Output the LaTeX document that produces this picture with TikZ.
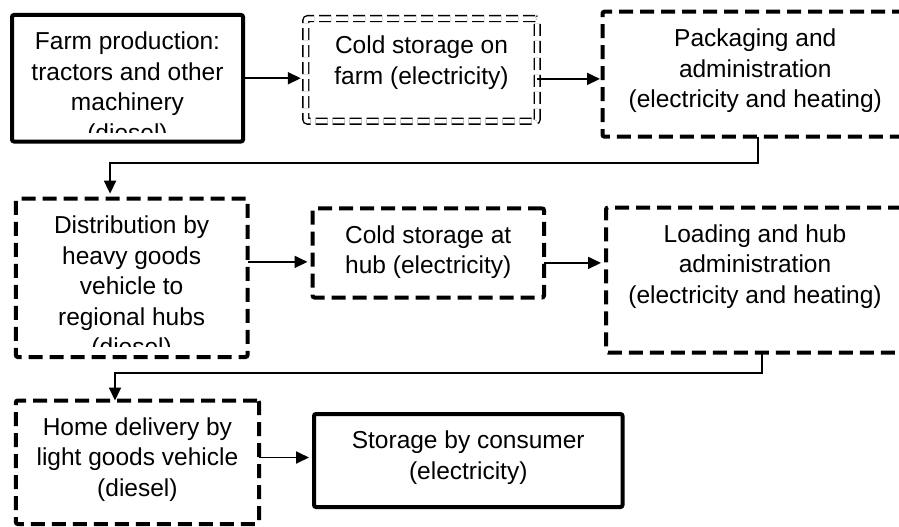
\documentclass[tikz,border=0pt]{standalone}
\usepackage{fontspec}
\setmainfont{Liberation Sans}
\usetikzlibrary{arrows.meta,positioning}

\begin{document}
\begin{tikzpicture}[
  x=1pt,y=-1pt,
  font=\fontsize{24.5}{30.5}\selectfont,
  solidbox/.style={draw,line width=4pt,rounded corners=2pt,outer sep=0pt,inner sep=0pt,anchor=north west},
  dashbox/.style={solidbox,dash pattern=on 14pt off 7pt},
  dblbox/.style={draw,double,double distance=4.4pt,line width=1.4pt,dash pattern=on 12pt off 5pt,rounded corners=2pt,outer sep=0pt,inner sep=0pt,anchor=north west},
  txt/.style={align=center,inner sep=0pt},
  arr/.style={-{Triangle[length=13pt,width=12pt]},line width=1.8pt,shorten >=5pt}
]
\useasboundingbox (0,0) rectangle (899,527);
\clip (0,0) rectangle (899,527);

\node[solidbox,minimum width=231pt,minimum height=126.5pt] (farm) at (12,15) {};
\node[dblbox,minimum width=231.4pt,minimum height=102.6pt] (cold) at (305.8,18.6) {};
\node[dashbox,minimum width=305.5pt,minimum height=125pt] (pack) at (602.5,11.7) {};

\node[dashbox,minimum width=231.7pt,minimum height=158.3pt] (dist) at (15.8,198.7) {};
\node[dashbox,minimum width=231.5pt,minimum height=89.2pt] (hub) at (312.5,208.3) {};
\node[dashbox,minimum width=298pt,minimum height=145pt] (load) at (606,207.5) {};

\node[dashbox,minimum width=243.2pt,minimum height=123.5pt] (home) at (15.8,400.5) {};
\node[solidbox,minimum width=308.5pt,minimum height=93pt] (store) at (314,414) {};

\begin{scope}
\clip (farm.north west) rectangle ([yshift=9.5pt]farm.south east);
\node[txt,below=17pt of farm.north] (farmtxt) {Farm production:\\tractors and other\\machinery\\(diesel)};
\end{scope}
\node[txt,below=17pt of cold.north] (coldtxt) {Cold storage on\\farm (electricity)};
\node[txt,below=17pt of pack.north] (packtxt) {Packaging and\\administration\\(electricity and heating)};

\begin{scope}
\clip (dist.north west) rectangle ([yshift=11pt]dist.south east);
\node[txt,below=17pt of dist.north] (disttxt) {Distribution by\\heavy goods\\vehicle to\\regional hubs\\(diesel)};
\end{scope}
\node[txt,below=17pt of hub.north] (hubtxt) {Cold storage at\\hub (electricity)};
\node[txt,below=17pt of load.north] (loadtxt) {Loading and hub\\administration\\(electricity and heating)};

\node[txt,below=17pt of home.north] (hometxt) {Home delivery by\\light goods vehicle\\(diesel)};
\node[txt,below=17pt of store.north] (storetxt) {Storage by consumer\\(electricity)};

\coordinate (coldout) at ([yshift=-9pt]cold.east);
\coordinate (hubin) at ([yshift=-9pt]hub.west);
\coordinate (hubout) at ([yshift=-10pt]hub.east);
\coordinate (storein) at ([yshift=3pt]store.west);

\draw[arr] (farm.east) -- (farm.east -| cold.west);
\draw[arr,shorten >=2.5pt] (coldout) -- (coldout -| pack.west);
\draw[arr] ([xshift=3pt]pack.south) -- ++(0,26.3) -| ([xshift=-21.6pt]dist.north);

\draw[arr] (dist.east |- hubin) -- (hubin);
\draw[arr] (hubout) -- (hubout -| load.west);
\draw[arr,shorten >=0pt] ([xshift=7pt]load.south) -- ++(0,20.5) -| ([xshift=-22.4pt]home.north);

\draw[arr] (home.east |- storein) -- (storein);
\end{tikzpicture}
\end{document}
